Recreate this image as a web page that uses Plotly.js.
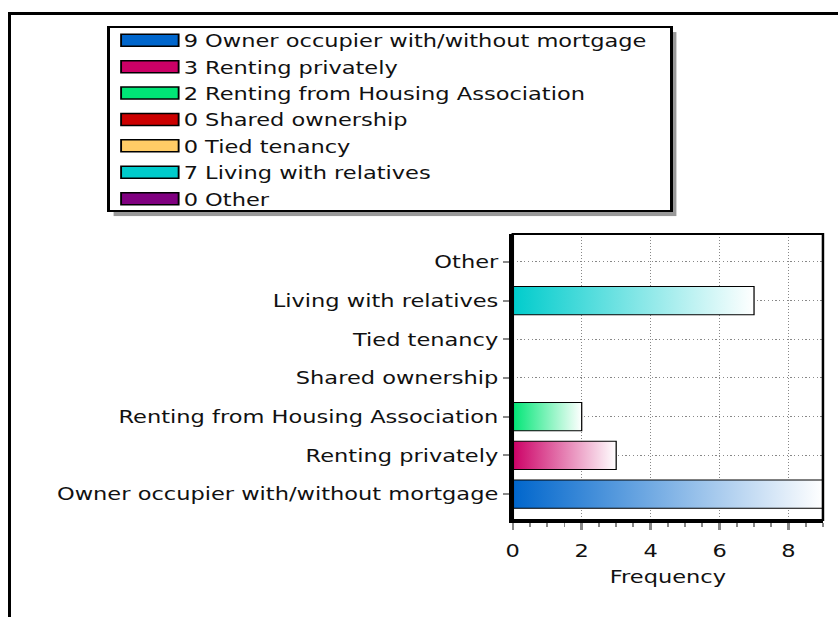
<!DOCTYPE html>
<html>
<head>
<meta charset="utf-8">
<script src="https://cdn.plot.ly/plotly-3.0.1.min.js"></script>
<style>
  body { margin: 0; background: #fff; overflow: hidden; }
  /* the reference looks horizontally stretched, so draw narrower and stretch */
  #chart { position: absolute; left: 0; top: 0; width: 670px; height: 617px;
           transform: scaleX(1.2507); transform-origin: 0 0; }
  #frame { position: absolute; left: 8px; top: 12px; width: 840px; height: 620px;
           border-top: 3px solid #000; border-left: 3px solid #000; pointer-events: none; }
</style>
</head>
<body>
<div id="chart"></div>
<div id="frame"></div>
<script>
// housing situation counts
const categories = ['Owner occupier with/without mortgage', 'Renting privately',
  'Renting from Housing Association', 'Shared ownership', 'Tied tenancy',
  'Living with relatives', 'Other'];
const frequencies = [9, 3, 2, 0, 0, 7, 0];
const barColours = ['#0066CC', '#CC0066', '#00E676', '#CC0000', '#FFCC66', '#00CCCC', '#800080'];
const xTicks = [0, 2, 4, 6, 8];

const font = 'DejaVu Sans';

var data = categories.map((c, i) => ({
  type: 'bar',
  orientation: 'h',
  y: [c],
  x: [frequencies[i]],
  name: frequencies[i] + ' ' + c,
  width: 0.73,
  marker: { color: barColours[i], line: { color: '#000', width: 1 } }
}));

var layout = {
  width: 670,
  height: 617,
  margin: { l: 410, r: 12, t: 234, b: 97 },
  paper_bgcolor: 'rgba(0,0,0,0)',
  plot_bgcolor: '#fff',
  font: { family: font, size: 18, color: '#111' },
  barmode: 'overlay',
  showlegend: true,
  legend: {
    x: -1.287, y: 1.748, xanchor: 'left', yanchor: 'top',
    bgcolor: '#fff', bordercolor: '#000', borderwidth: 2,
    itemwidth: 44, traceorder: 'normal',
    font: { family: font, size: 18, color: '#111' }
  },
  xaxis: {
    range: [0, 9],
    tickvals: xTicks,
    ticks: 'outside', ticklen: 7, tickwidth: 2, tickcolor: '#888',
    ticklabelstandoff: 5,
    minor: { dtick: 0.5, ticks: 'outside', ticklen: 4, tickwidth: 1.5, tickcolor: '#888', showgrid: false },
    showgrid: true, gridcolor: '#888', griddash: '1px,2px', gridwidth: 1,
    showline: true, linecolor: '#000', linewidth: 3,
    zeroline: false,
    title: { text: 'Frequency', font: { family: font, size: 18, color: '#111' }, standoff: 11 }
  },
  yaxis: {
    type: 'category',
    categoryorder: 'array', categoryarray: categories,
    range: [-0.67, 6.72],
    ticks: 'outside', ticklen: 5, tickwidth: 2, tickcolor: '#888',
    showgrid: true, gridcolor: '#888', griddash: '1px,2px', gridwidth: 1,
    showline: true, linecolor: '#000', linewidth: 3,
    zeroline: false
  },
  shapes: [{
    type: 'rect', xref: 'paper', yref: 'paper', x0: 0, x1: 1, y0: 0, y1: 1,
    line: { color: '#000', width: 2 }
  }]
};

Plotly.newPlot('chart', data, layout, { staticPlot: true, displayModeBar: false }).then(gd => {
  var ns = 'http://www.w3.org/2000/svg';
  var defs = gd.querySelector('.main-svg defs');
  // colour-to-white fill for each bar
  barColours.forEach((col, i) => {
    var g = document.createElementNS(ns, 'linearGradient');
    g.setAttribute('id', 'barfade' + i);
    g.setAttribute('x1', '0'); g.setAttribute('y1', '0');
    g.setAttribute('x2', '1'); g.setAttribute('y2', '0');
    [[0, col], [1, '#fff']].forEach(([o, c]) => {
      var s = document.createElementNS(ns, 'stop');
      s.setAttribute('offset', o);
      s.setAttribute('stop-color', c);
      g.appendChild(s);
    });
    defs.appendChild(g);
  });
  gd.querySelectorAll('.barlayer .trace').forEach((tr, i) => {
    tr.querySelectorAll('path').forEach(p => { p.style.fill = 'url(#barfade' + i + ')'; });
  });

  // wide legend swatches
  gd.querySelectorAll('.legend .legendpoints path').forEach(p => {
    p.setAttribute('d', 'M-23,-6h46v12h-46z');
    p.style.stroke = '#000';
    p.style.strokeWidth = '1.5px';
  });

  // tighter legend box, a bit wider, with a drop shadow
  var leg = gd.querySelector('.legend');
  var bg = leg.querySelector('rect.bg');
  var bx = +bg.getAttribute('x') - 5, by = +bg.getAttribute('y') + 6;
  var bw = +bg.getAttribute('width') + 18, bh = +bg.getAttribute('height') - 13;
  bg.setAttribute('x', bx);
  bg.setAttribute('y', by);
  bg.setAttribute('width', bw);
  bg.setAttribute('height', bh);
  var sh = document.createElementNS(ns, 'rect');
  sh.setAttribute('x', bx + 4);
  sh.setAttribute('y', by + 5);
  sh.setAttribute('width', bw);
  sh.setAttribute('height', bh);
  sh.setAttribute('fill', '#999');
  bg.parentNode.insertBefore(sh, bg);
});
</script>
</body>
</html>
